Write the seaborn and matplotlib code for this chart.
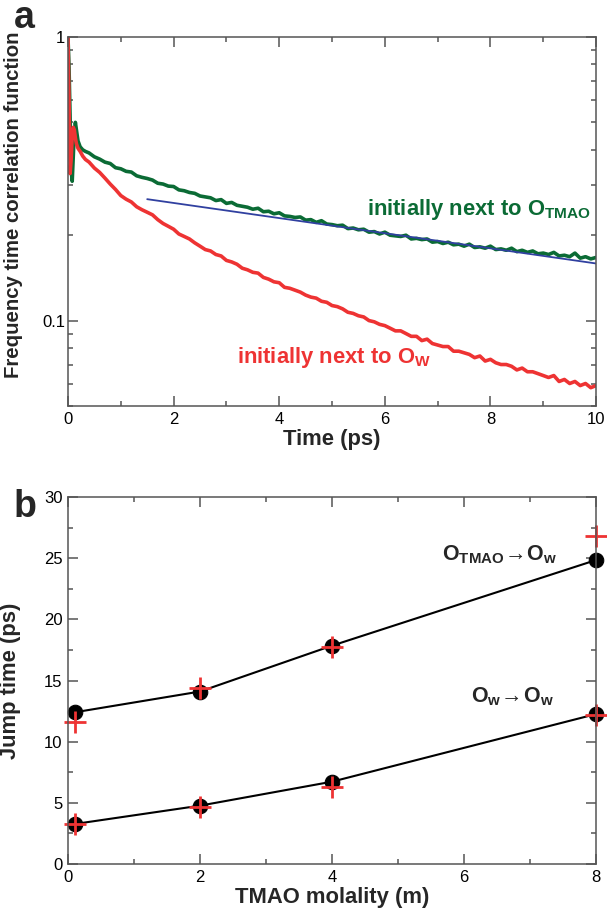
import numpy as np
import matplotlib
matplotlib.use("Agg")
import matplotlib.pyplot as plt
import seaborn as sns
from matplotlib.ticker import FixedLocator, MultipleLocator, NullFormatter

sns.set_style("ticks")
plt.rcParams['font.family'] = ['Liberation Sans', 'DejaVu Sans']
plt.rcParams['mathtext.fontset'] = 'custom'
plt.rcParams['mathtext.rm'] = 'Liberation Sans'
plt.rcParams['mathtext.bf'] = 'Liberation Sans:bold'

# ---- panel a: frequency time correlation functions
time_ps = [0, 0.02, 0.04, 0.06, 0.08, 0.10, 0.12, 0.14, 0.16, 0.19, 0.23, 0.28, 0.33,
           0.4, 0.5, 0.6, 0.7, 0.8, 0.9,
           1.0, 1.1, 1.2, 1.3, 1.4, 1.5, 1.6, 1.7, 1.8, 1.9,
           2.0, 2.1, 2.2, 2.3, 2.4, 2.5, 2.6, 2.7, 2.8, 2.9,
           3.0, 3.1, 3.2, 3.3, 3.4, 3.5, 3.6, 3.7, 3.8, 3.9,
           4.0, 4.1, 4.2, 4.3, 4.4, 4.5, 4.6, 4.7, 4.8, 4.9,
           5.0, 5.1, 5.2, 5.3, 5.4, 5.5, 5.6, 5.7, 5.8, 5.9,
           6.0, 6.1, 6.2, 6.3, 6.4, 6.5, 6.6, 6.7, 6.8, 6.9,
           7.0, 7.1, 7.2, 7.3, 7.4, 7.5, 7.6, 7.7, 7.8, 7.9,
           8.0, 8.1, 8.2, 8.3, 8.4, 8.5, 8.6, 8.7, 8.8, 8.9,
           9.0, 9.1, 9.2, 9.3, 9.4, 9.5, 9.6, 9.7, 9.8, 9.9, 10.0]
tcf_otmao = [1.0, 0.78, 0.52, 0.34, 0.31, 0.38, 0.46, 0.50, 0.47, 0.43, 0.41, 0.40, 0.395,
             0.390, 0.378, 0.371, 0.362, 0.358, 0.346,
             0.343, 0.336, 0.334, 0.324, 0.320, 0.317, 0.313, 0.305, 0.303, 0.298,
             0.297, 0.289, 0.287, 0.283, 0.281, 0.275, 0.273, 0.271, 0.265, 0.267,
             0.259, 0.261, 0.255, 0.253, 0.251, 0.247, 0.249, 0.242, 0.243, 0.238,
             0.240, 0.234, 0.233, 0.231, 0.232, 0.226, 0.227, 0.222, 0.225, 0.219,
             0.218, 0.216, 0.217, 0.211, 0.212, 0.209, 0.210, 0.205, 0.206, 0.202,
             0.205, 0.200, 0.199, 0.198, 0.200, 0.194, 0.195, 0.193, 0.194, 0.189,
             0.190, 0.187, 0.189, 0.185, 0.186, 0.183, 0.186, 0.181, 0.182, 0.180,
             0.183, 0.178, 0.179, 0.177, 0.180, 0.175, 0.177, 0.174, 0.176, 0.172,
             0.173, 0.171, 0.174, 0.169, 0.170, 0.168, 0.173, 0.166, 0.168, 0.165, 0.167]
tcf_ow = [1.0, 0.60, 0.33, 0.37, 0.45, 0.48, 0.47, 0.44, 0.42, 0.405, 0.395, 0.38, 0.37,
          0.362, 0.345, 0.333, 0.318, 0.303, 0.290,
          0.276, 0.268, 0.262, 0.252, 0.246, 0.241, 0.236, 0.227, 0.220, 0.215,
          0.210, 0.202, 0.198, 0.194, 0.188, 0.183, 0.178, 0.176, 0.171, 0.169,
          0.163, 0.161, 0.158, 0.153, 0.151, 0.148, 0.147, 0.142, 0.140, 0.137,
          0.136, 0.131, 0.130, 0.128, 0.126, 0.123, 0.121, 0.120, 0.117, 0.116,
          0.113, 0.112, 0.110, 0.107, 0.106, 0.104, 0.103, 0.100, 0.099, 0.097,
          0.096, 0.094, 0.092, 0.092, 0.090, 0.088, 0.088, 0.085, 0.086, 0.083,
          0.082, 0.081, 0.081, 0.078, 0.078, 0.077, 0.076, 0.074, 0.075, 0.072,
          0.073, 0.071, 0.070, 0.070, 0.069, 0.067, 0.068, 0.066, 0.066, 0.065,
          0.064, 0.063, 0.064, 0.061, 0.062, 0.060, 0.061, 0.059, 0.060, 0.058, 0.059]
fit_t = [1.5, 10.0]
fit_y = [0.268, 0.159]

# ---- panel b: jump times
molality = [0.1, 2, 4, 8]
jump_otmao = [12.4, 14.1, 17.85, 24.85]
jump_otmao_model = [11.6, 14.35, 17.7, 26.8]
jump_ow = [3.27, 4.77, 6.73, 12.26]
jump_ow_model = [3.3, 4.68, 6.32, 12.2]

green = "#0b6b35"
red = "#ee3333"
blue = "#3040a0"
spine_c = "#555555"

fig = plt.figure(figsize=(6.07, 9.09), dpi=100)
ax1 = fig.add_axes([0.112, 0.5534, 0.870, 0.4059])
ax2 = fig.add_axes([0.112, 0.0495, 0.870, 0.4037])

sns.lineplot(x=time_ps, y=tcf_otmao, ax=ax1, color=green, lw=2.6, sort=False, estimator=None)
sns.lineplot(x=time_ps, y=tcf_ow, ax=ax1, color=red, lw=2.6, sort=False, estimator=None)
sns.lineplot(x=fit_t, y=fit_y, ax=ax1, color=blue, lw=1.3, sort=False, estimator=None)

ax1.set_yscale('log')
ax1.set_xlim(0, 10)
ax1.set_ylim(0.05, 1)
ax1.xaxis.set_major_locator(MultipleLocator(2))
ax1.xaxis.set_minor_locator(MultipleLocator(1))
ax1.yaxis.set_major_locator(FixedLocator([0.1, 1]))
ax1.yaxis.set_minor_locator(FixedLocator([0.05, 0.06, 0.07, 0.08, 0.09, 0.2, 0.3, 0.4,
                                          0.5, 0.6, 0.7, 0.8, 0.9]))
ax1.set_yticklabels(['0.1', '1'])
ax1.yaxis.set_minor_formatter(NullFormatter())
ax1.set_xlabel('Time (ps)', fontsize=15.8, fontweight='bold', labelpad=2)
ax1.set_ylabel('Frequency time correlation function', fontsize=14.7, fontweight='bold')
ax1.yaxis.set_label_coords(-0.085, 0.545)
ax1.text(5.66, 0.236, r'initially next to O$_{\mathbf{TMAO}}$', color=green,
         fontsize=15.8, fontweight='bold', ha='left', va='baseline')
ax1.text(3.2, 0.0706, r'initially next to O$_{\mathbf{W}}$', color=red,
         fontsize=15.8, fontweight='bold', ha='left', va='baseline')

# black dots joined by lines, red crosses on top (not clipped at the frame)
sns.lineplot(x=molality, y=jump_otmao, ax=ax2, color='black', lw=1.5, marker='o',
             markersize=10.5, markeredgecolor='black', estimator=None, clip_on=False)
sns.lineplot(x=molality, y=jump_ow, ax=ax2, color='black', lw=1.5, marker='o',
             markersize=10.5, markeredgecolor='black', estimator=None, clip_on=False)
sns.lineplot(x=molality, y=jump_otmao_model, ax=ax2, color=red, linestyle='', marker='+',
             markersize=16, markeredgewidth=2, markeredgecolor=red, estimator=None,
             clip_on=False)
sns.lineplot(x=molality, y=jump_ow_model, ax=ax2, color=red, linestyle='', marker='+',
             markersize=16, markeredgewidth=2, markeredgecolor=red, estimator=None,
             clip_on=False)

ax2.set_xlim(0, 8)
ax2.set_ylim(0, 30)
ax2.xaxis.set_major_locator(MultipleLocator(2))
ax2.xaxis.set_minor_locator(MultipleLocator(1))
ax2.yaxis.set_major_locator(MultipleLocator(5))
ax2.yaxis.set_minor_locator(MultipleLocator(2.5))
ax2.set_xlabel('TMAO molality (m)', fontsize=15.8, fontweight='bold', labelpad=2)
ax2.set_ylabel('Jump time (ps)', fontsize=15.8, fontweight='bold')
ax2.yaxis.set_label_coords(-0.089, 0.50)
ax2.text(5.67, 24.86, r'$\mathbf{O_{TMAO}}\!\rightarrow\!\mathbf{O_w}$',
         fontsize=15.5, ha='left', va='baseline')
ax2.text(6.1, 13.2, r'$\mathbf{O_w}\!\rightarrow\!\mathbf{O_w}$',
         fontsize=15.5, ha='left', va='baseline')

for ax in (ax1, ax2):
    for s in ax.spines.values():
        s.set_visible(True)
        s.set_color(spine_c)
        s.set_linewidth(1.1)
    ax.tick_params(which='both', direction='in', top=True, right=True,
                   color=spine_c, width=1.1, labelsize=12, labelcolor='black')
    ax.tick_params(which='major', length=7)
    ax.tick_params(which='minor', length=3.5)
ax1.tick_params(axis='y', pad=2)
ax1.tick_params(axis='x', pad=4)
ax2.tick_params(axis='both', pad=4)

fig.text(0.04, 0.969, 'a', fontsize=27, fontweight='bold', ha='center', va='baseline')
fig.text(0.041, 0.431, 'b', fontsize=27, fontweight='bold', ha='center', va='baseline')

fig.savefig('out.png', dpi=100)
